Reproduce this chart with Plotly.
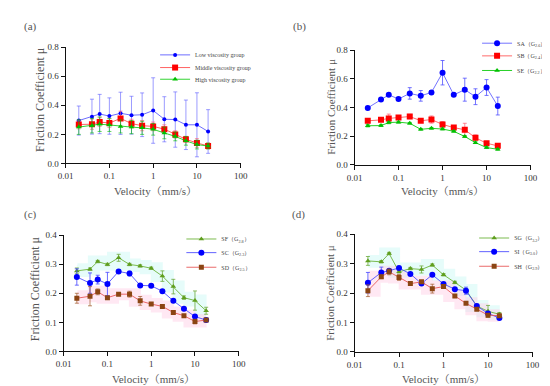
import plotly.graph_objects as go

vel = [0.02, 0.04, 0.06, 0.1, 0.18, 0.32, 0.56, 1, 1.8, 3.2, 5.6, 10, 18]

# Panel (a)
low_y = [0.295, 0.322, 0.34, 0.326, 0.345, 0.332, 0.335, 0.364, 0.304, 0.302, 0.266, 0.266, 0.22]
low_e = [0.10, 0.12, 0.135, 0.125, 0.145, 0.13, 0.15, 0.225, 0.155, 0.19, 0.17, 0.22, 0.15]
mid_y = [0.268, 0.27, 0.285, 0.278, 0.31, 0.274, 0.26, 0.255, 0.236, 0.2, 0.166, 0.141, 0.121]
mid_e = [0.03, 0.035, 0.03, 0.03, 0.05, 0.03, 0.035, 0.03, 0.03, 0.025, 0.02, 0.03, 0.02]
high_y = [0.25, 0.26, 0.27, 0.265, 0.255, 0.25, 0.245, 0.235, 0.21, 0.186, 0.156, 0.13, 0.12]
high_e = [0.05, 0.05, 0.05, 0.045, 0.045, 0.045, 0.045, 0.04, 0.04, 0.03, 0.03, 0.03, 0.02]

# Panel (b)
sa_y = [0.397, 0.456, 0.488, 0.459, 0.498, 0.481, 0.505, 0.642, 0.488, 0.524, 0.475, 0.539, 0.41]
sa_e = [0.005, 0.008, 0.01, 0.008, 0.04, 0.037, 0.01, 0.085, 0.008, 0.08, 0.055, 0.055, 0.062]
sb_y = [0.307, 0.314, 0.324, 0.33, 0.337, 0.308, 0.316, 0.282, 0.26, 0.245, 0.189, 0.151, 0.133]
sb_e = [0.015, 0.01, 0.03, 0.012, 0.015, 0.01, 0.025, 0.02, 0.01, 0.045, 0.02, 0.01, 0.015]
se_y = [0.273, 0.274, 0.295, 0.298, 0.29, 0.248, 0.255, 0.25, 0.234, 0.198, 0.155, 0.121, 0.109]
se_e = [0.008, 0.006, 0.008, 0.006, 0.006, 0.006, 0.006, 0.006, 0.006, 0.006, 0.006, 0.006, 0.006]

# Panel (c)
sf_y = [0.277, 0.283, 0.309, 0.299, 0.322, 0.299, 0.294, 0.286, 0.259, 0.223, 0.185, 0.175, 0.14]
sf_e = [0.01, 0.004, 0.004, 0.004, 0.012, 0.004, 0.004, 0.004, 0.018, 0.025, 0.006, 0.033, 0.012]
sc_y = [0.256, 0.235, 0.247, 0.232, 0.275, 0.268, 0.227, 0.226, 0.207, 0.174, 0.147, 0.12, 0.108]
sc_e = [0.028, 0.035, 0.015, 0.04, 0.004, 0.008, 0.004, 0.004, 0.004, 0.004, 0.004, 0.004, 0.004]
sd_y = [0.183, 0.19, 0.205, 0.185, 0.197, 0.197, 0.174, 0.163, 0.155, 0.134, 0.123, 0.103, 0.108]
sd_e = [0.017, 0.033, 0.01, 0.004, 0.004, 0.01, 0.015, 0.004, 0.004, 0.004, 0.004, 0.008, 0.004]

# Panel (d)
sg_y = [0.309, 0.306, 0.334, 0.272, 0.283, 0.28, 0.295, 0.262, 0.236, 0.21, 0.156, 0.138, 0.128]
sg_e = [0.015, 0.004, 0.004, 0.004, 0.004, 0.012, 0.004, 0.004, 0.004, 0.004, 0.004, 0.02, 0.006]
si_y = [0.235, 0.27, 0.276, 0.285, 0.265, 0.232, 0.262, 0.231, 0.213, 0.208, 0.156, 0.131, 0.115]
si_e = [0.035, 0.018, 0.006, 0.004, 0.004, 0.004, 0.004, 0.004, 0.004, 0.012, 0.004, 0.004, 0.004]
sh_y = [0.208, 0.255, 0.272, 0.253, 0.232, 0.238, 0.215, 0.222, 0.19, 0.165, 0.145, 0.125, 0.123]
sh_e = [0.02, 0.006, 0.01, 0.01, 0.004, 0.004, 0.015, 0.004, 0.004, 0.004, 0.004, 0.004, 0.004]

FONT = "Liberation Serif, Times New Roman, serif"
TFONT = "Liberation Serif, Noto Serif CJK SC, Noto Sans CJK SC, serif"
W, H = 550, 386

fig = go.Figure()
legends = {}
leg_count = [0]


def add_series(ax, y, e, name, symbol, mcolor, lcolor, ecolor, msize, lx, ly, fsize):
    xa = "x" if ax == 1 else f"x{ax}"
    ya = "y" if ax == 1 else f"y{ax}"
    leg_count[0] += 1
    lname = "legend" if leg_count[0] == 1 else f"legend{leg_count[0]}"
    legends[lname] = dict(x=lx / W, y=1 - ly / H, xanchor="left", yanchor="middle",
                          bgcolor="rgba(0,0,0,0)", borderwidth=0, itemwidth=30,
                          font=dict(family=FONT, size=fsize, color="#444"))
    fig.add_trace(go.Scatter(
        x=vel, y=y, xaxis=xa, yaxis=ya, name=name, mode="lines+markers",
        line=dict(color=lcolor, width=1),
        marker=dict(symbol=symbol, color=mcolor, size=msize, line=dict(width=0)),
        error_y=dict(type="data", array=e, visible=True, color=ecolor, thickness=1, width=2),
        legend=lname,
    ))


def add_band(ax, y, color):
    xa = "x" if ax == 1 else f"x{ax}"
    ya = "y" if ax == 1 else f"y{ax}"
    fig.add_trace(go.Scatter(
        x=vel, y=y, xaxis=xa, yaxis=ya, mode="lines", line=dict(color=color, width=12, shape="hvh"),
        showlegend=False, hoverinfo="skip",
    ))


BLUE = "#0000ff"
RED = "#ff0000"
GREEN = "#00c000"
OLIVE = "#5f9e1e"
BROWN = "#8b4513"

# (a)
add_series(1, low_y, low_e, "Low viscosity group", "circle", BLUE, "rgba(60,60,255,0.75)", "rgba(90,90,255,0.6)", 4, 143, 43, 6)
add_series(1, mid_y, mid_e, "Middle viscosity group", "square", RED, "rgba(255,60,60,0.8)", "rgba(255,90,120,0.6)", 6, 143, 56, 6)
add_series(1, high_y, high_e, "High viscosity group", "triangle-up", GREEN, "rgba(0,200,0,0.8)", "rgba(0,190,0,0.6)", 5, 143, 68, 6)

# (b)
add_series(2, sa_y, sa_e, "SA（G<sub>2.6</sub>）", "circle", BLUE, "rgba(80,80,255,0.8)", "rgba(80,80,255,0.8)", 6, 474, 31, 6)
add_series(2, sb_y, sb_e, "SB（G<sub>2.4</sub>）", "square", RED, "rgba(255,70,70,0.8)", "rgba(255,90,110,0.7)", 6, 474, 44, 6)
add_series(2, se_y, se_e, "SE（G<sub>2.2</sub>）", "triangle-up", GREEN, "rgba(0,200,0,0.85)", "rgba(0,190,0,0.7)", 5, 474, 59, 6)

# (c)
add_band(3, sf_y, "rgba(205,250,245,0.5)")
add_band(3, sd_y, "rgba(255,205,228,0.45)")
add_series(3, sf_y, sf_e, "SF（G<sub>2.8</sub>）", "triangle-up", OLIVE, "rgba(110,180,60,0.9)", "rgba(110,170,60,0.8)", 5, 170, 232, 6)
add_series(3, sc_y, sc_e, "SC（G<sub>2.3</sub>）", "circle", BLUE, "rgba(70,70,255,0.85)", "rgba(70,70,255,0.8)", 6, 170, 246, 6)
add_series(3, sd_y, sd_e, "SD（G<sub>2.5</sub>）", "square", BROWN, "rgba(230,80,80,0.85)", "rgba(160,90,40,0.7)", 5, 170, 261, 6)

# (d)
add_band(4, sg_y, "rgba(205,250,245,0.5)")
add_band(4, sh_y, "rgba(255,205,228,0.45)")
add_series(4, sg_y, sg_e, "SG（G<sub>3.2</sub>）", "triangle-up", OLIVE, "rgba(110,180,60,0.9)", "rgba(110,170,60,0.8)", 5, 471, 231, 6)
add_series(4, si_y, si_e, "SI（G<sub>3.0</sub>）", "circle", BLUE, "rgba(70,70,255,0.85)", "rgba(70,70,255,0.8)", 6, 471, 245, 6)
add_series(4, sh_y, sh_e, "SH（G<sub>2.9</sub>）", "square", BROWN, "rgba(230,80,80,0.85)", "rgba(160,90,40,0.7)", 5, 471, 260, 6)

# domains in pixels: (x0, x1, ytop, ybottom)
panels = {
    1: (51, 231, 35, 154.5, 0.8, 0.2),
    2: (348, 529, 38, 156, 0.8, 0.2),
    3: (49, 229, 228, 347.5, 0.4, 0.1),
    4: (348, 531, 227, 348, 0.4, 0.1),
}

layout = dict(
    width=W, height=H, margin=dict(l=0, r=0, t=0, b=0),
    paper_bgcolor="white", plot_bgcolor="white",
    font=dict(family=FONT, color="black"),
)
tickfont = dict(family=FONT, size=9, color="#333")
for k, (x0, x1, yt, yb, ymax, dt) in panels.items():
    sx = "xaxis" if k == 1 else f"xaxis{k}"
    sy = "yaxis" if k == 1 else f"yaxis{k}"
    layout[sx] = dict(
        domain=[x0 / W, x1 / W], type="log", range=[-2, 2],
        tickvals=[0.01, 0.1, 1, 10, 100], ticktext=["0.01", "0.1", "1", "10", "100"],
        showline=True, linecolor="#111", linewidth=1, ticks="outside", ticklen=4, tickwidth=1,
        tickcolor="#111", showgrid=False, zeroline=False, tickfont=tickfont,
        anchor="y" if k == 1 else f"y{k}",
    )
    layout[sy] = dict(
        domain=[1 - yb / H, 1 - yt / H], range=[0, ymax], dtick=dt, tick0=0, tickformat=".1f",
        showline=True, linecolor="#111", linewidth=1, ticks="outside", ticklen=4, tickwidth=1,
        tickcolor="#111", showgrid=False, zeroline=False, tickfont=tickfont,
        anchor="x" if k == 1 else f"x{k}",
    )

layout.update(legends)

anns = []
def ann(x, y, text, size, angle=0):
    anns.append(dict(x=x / W, y=1 - y / H, xref="paper", yref="paper", text=text, showarrow=False,
                     font=dict(family=TFONT, size=size, color="#555", weight="normal"), textangle=angle,
                     xanchor="center", yanchor="middle"))

ann(15, 14, "(a)", 11)
ann(291, 14, "(b)", 11)
ann(15, 207, "(c)", 11)
ann(290, 207, "(d)", 11)
ann(24, 89, "Friction Coefficient μ", 12, -90)
ann(323, 96, "Friction Coefficient μ", 11, -90)
ann(19, 283, "Friction Coefficient μ", 12, -90)
ann(322, 287, "Friction Coefficient μ", 11, -90)
ann(143, 183, "Velocity（mm/s）", 11)
ann(438, 183, "Velocity（mm/s）", 11)
ann(141, 376, "Velocity（mm/s）", 11)
ann(439, 376, "Velocity（mm/s）", 11)
layout["annotations"] = anns

fig.update_layout(**layout)
fig.write_html("out.html")
